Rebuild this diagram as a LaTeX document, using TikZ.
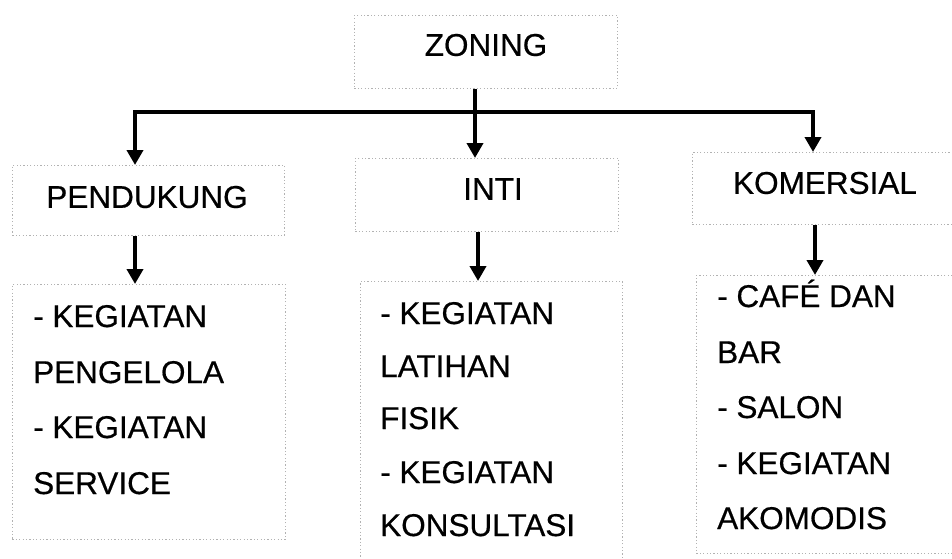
\documentclass[tikz,border=0pt]{standalone}
\usepackage{fontspec}
\setmainfont[FakeBold=0.5]{Liberation Sans}
\usetikzlibrary{arrows.meta}
\begin{document}
\begin{tikzpicture}[x=1pt,y=-1pt,
  zone/.style={draw=gray!60, line width=0.7pt, dash pattern=on 1.2pt off 2.2pt,
    rectangle, inner sep=0pt, anchor=north west},
  head/.style={font=\fontsize{31.5}{36}\selectfont, inner sep=0pt},
  entry/.style={font=\fontsize{31.5}{36}\selectfont, inner sep=0pt, anchor=base west},
  link/.style={line width=4pt, line join=miter, -{Triangle[width=16pt,length=15pt]}}]
\useasboundingbox (0,0) rectangle (952,558);
\clip (0,0) rectangle (952,558);

% boxes
\node[zone, minimum width=263pt, minimum height=73pt] (zoning) at (354,15) {};
\node[zone, minimum width=272pt, minimum height=70pt] (pend) at (12,165) {};
\node[zone, minimum width=263pt, minimum height=73pt] (inti) at (355,158) {};
\node[zone, minimum width=300pt, minimum height=72pt] (komer) at (692,152) {};
\node[zone, minimum width=273pt, minimum height=255pt] (pendList) at (12,284) {};
\node[zone, minimum width=262pt, minimum height=290pt] (intiList) at (360,281) {};
\node[zone, minimum width=300pt, minimum height=278pt] (komerList) at (696,275) {};

% headings
\node[head] (tZoning) at (486,45) {ZONING};
\node[head] (tPend) at (147,197) {PENDUKUNG};
\node[head] (tInti) at (493,189) {INTI};
\node[head] (tKomer) at (825,183) {KOMERSIAL};

% activity lists
\node[entry] (p1) at (33,327) {- KEGIATAN};
\node[entry] (p2) at (33,383) {PENGELOLA};
\node[entry] (p3) at (33,438) {- KEGIATAN};
\node[entry] (p4) at (33,494) {SERVICE};

\node[entry] (i1) at (380,324) {- KEGIATAN};
\node[entry] (i2) at (380,377) {LATIHAN};
\node[entry] (i3) at (380,429) {FISIK};
\node[entry] (i4) at (380,483) {- KEGIATAN};
\node[entry] (i5) at (380,536) {KONSULTASI};

\node[entry] (k1) at (717,307) {- CAFÉ DAN};
\node[entry] (k2) at (717,363) {BAR};
\node[entry] (k3) at (717,418) {- SALON};
\node[entry] (k4) at (717,474) {- KEGIATAN};
\node[entry] (k5) at (717,529) {AKOMODIS};

% connector columns
\coordinate (busL) at (135,112);
\coordinate (busM) at (475,112);
\coordinate (busR) at (813,112);
\coordinate (colL) at (135,0);
\coordinate (colM) at (478,0);
\coordinate (colR) at (815,0);

% branching from ZONING
\draw[link] (busM) -- (busL) -- (busL |- pend.north);
\draw[link] (busM) -- (busR) -- (busR |- komer.north);
\draw[link] (zoning.south -| busM) -- (inti.north -| busM);

% down to the activity lists
\draw[link] (pend.south -| colL) -- (pendList.north -| colL);
\draw[link] (inti.south -| colM) -- (intiList.north -| colM);
\draw[link] (komer.south -| colR) -- (komerList.north -| colR);
\end{tikzpicture}
\end{document}
